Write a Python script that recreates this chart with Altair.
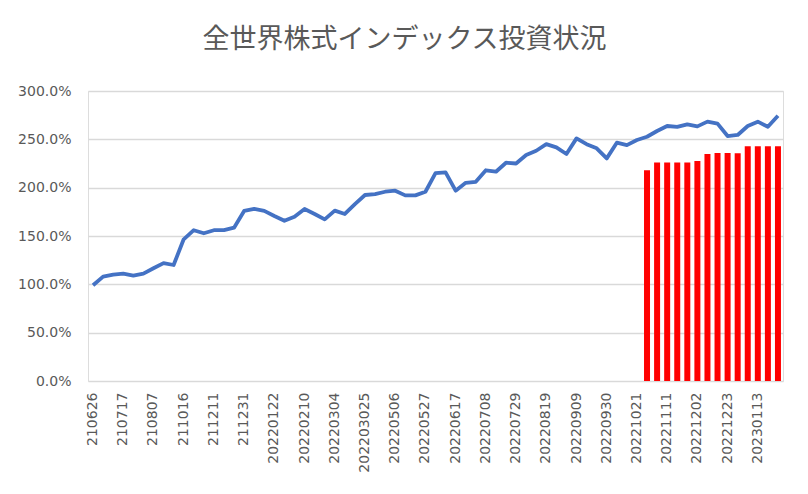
import altair as alt
import pandas as pd

# x-axis tick labels (every 3rd category)
tick_labels = ["210626", "210717", "210807", "211016", "211211", "211231",
               "20220122", "20220210", "20220304", "202203025", "20220506",
               "20220527", "20220617", "20220708", "20220729", "20220819",
               "20220909", "20220930", "20221021", "20221111", "20221202",
               "20221223", "20230113"]

# line series (percent)
line_values = [99, 108, 110, 111, 109, 111, 116.6, 122, 120, 146.6,
               156, 152.8, 156, 156, 158.6, 175.9, 178, 176, 170.7, 165.8,
               170, 178, 172.8, 167.2, 176.2, 172.8, 183, 192.4, 193.4, 195.8,
               196.9, 192, 192, 195.8, 215, 215.9, 196.9, 205, 206, 218,
               216.5, 225.8, 225, 233.8, 238.2, 245, 241.7, 234.8, 251, 245,
               240.7, 230.3, 246.5, 244, 249.3, 252.7, 258.6, 263.8, 262.8, 265.5,
               263.4, 268.3, 266.2, 253.4, 254.5, 263.8, 268.3, 263, 274.4]

# bar series (percent), starting at category index 55
bar_start = 55
bar_values = [218, 226, 226, 226, 226, 227.6, 234.8, 235.9, 235.9, 235.5,
              242.8, 242.8, 242.8, 242.8]

n = len(line_values)
line_df = pd.DataFrame({"idx": list(range(n)), "v": [v / 100 for v in line_values]})
bar_df = pd.DataFrame({"idx": list(range(bar_start, bar_start + len(bar_values))),
                       "v": [v / 100 for v in bar_values]})

label_array = "[" + ",".join("'" + s + "'" for s in tick_labels) + "]"

GREY = "#595959"
FONT = "DejaVu Sans"

x_enc = alt.X(
    "idx:O",
    scale=alt.Scale(domain=list(range(n)), paddingInner=0, paddingOuter=0),
    axis=alt.Axis(
        title=None,
        values=list(range(0, n, 3)),
        labelExpr=label_array + "[floor(datum.value / 3)]",
        labelAngle=270,
        labelAlign="right",
        labelBaseline="middle",
        labelPadding=11,
        labelFontSize=14,
        labelFont=FONT,
        labelColor=GREY,
        ticks=False,
        domain=False,
        grid=False,
    ),
)

y_enc = alt.Y(
    "v:Q",
    scale=alt.Scale(domain=[0, 3], nice=False),
    axis=alt.Axis(
        title=None,
        values=[0, 0.5, 1, 1.5, 2, 2.5, 3],
        format=".1%",
        labelFontSize=14,
        labelFont=FONT,
        labelColor=GREY,
        labelPadding=17,
        ticks=False,
        domain=False,
        grid=True,
        gridColor="#d9d9d9",
        gridWidth=1.3,
    ),
)

bars = alt.Chart(bar_df).mark_bar(color="#ff0000", size=6).encode(x=x_enc, y=y_enc)
line = alt.Chart(line_df).mark_line(color="#4472c4", strokeWidth=3.8,
                                    strokeJoin="round").encode(x=x_enc, y=y_enc)

chart = (
    alt.layer(bars, line)
    .properties(
        width=695,
        height=290,
        autosize=alt.AutoSizeParams(type="none"),
        padding={"left": 80, "top": 83, "right": 17, "bottom": 105},
        title=alt.TitleParams(
            "全世界株式インデックス投資状況",
            font="Noto Sans CJK JP",
            fontSize=27,
            fontWeight="normal",
            color=GREY,
            anchor="middle",
            frame="group",
            baseline="bottom",
            offset=3,
            dx=-31,
        ),
    )
    .configure_view(stroke=None)
    .configure(background="white")
)

chart.save("out.html", embed_options={"renderer": "svg", "actions": False})
